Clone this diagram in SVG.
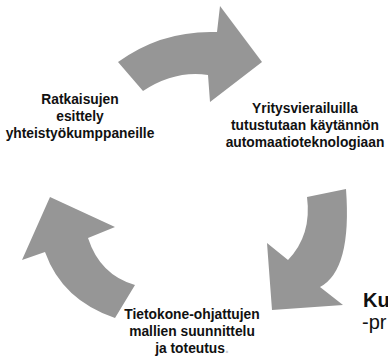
<svg xmlns="http://www.w3.org/2000/svg" width="388" height="357" viewBox="0 0 388 357">
<style>
.arrow{fill:#969696;stroke:none}
.lbl{font-family:"Liberation Sans",Arial,sans-serif;font-size:13.8px;font-weight:bold;fill:#111;text-anchor:middle}
.big{font-family:"Liberation Sans",Arial,sans-serif;font-size:20px;fill:#111}
</style>
<rect width="388" height="357" fill="#fff"/>
<g id="connectors">
<path id="arrow-top" class="arrow" d="M118,62 Q162,30 217,32 L220,6 L262,62 L210,102 L208,75 Q175,70 143,91 Z"/>
<path id="arrow-right" class="arrow" d="M346,189 Q352,270 320,287 L343,305 L272,310 L267,243 L288,260 Q312,235 307,197 Z"/>
<path id="arrow-left" class="arrow" d="M135,285 L115,318 Q62,300 45,252 L22,260 L50,197 L115,227 L88,238 Q100,275 135,285 Z"/>
</g>
<g id="node-ratkaisujen">
<text class="lbl" x="80" y="104">Ratkaisujen</text>
<text class="lbl" x="80" y="121">esittely</text>
<text class="lbl" x="80" y="138">yhteistyökumppaneille</text>
</g>
<g id="node-yritysvierailuilla">
<text class="lbl" x="305" y="113">Yritysvierailuilla</text>
<text class="lbl" x="305" y="130">tutustutaan käytännön</text>
<text class="lbl" x="305" y="147">automaatioteknologiaan</text>
</g>
<g id="node-tietokone">
<text class="lbl" x="192" y="319">Tietokone-ohjattujen</text>
<text class="lbl" x="192" y="336">mallien suunnittelu</text>
<text class="lbl" x="192" y="353">ja toteutus<tspan fill="#ccc">.</tspan></text>
</g>
<g id="node-ku">
<text class="big" x="363" y="307" font-weight="bold">Ku</text>
<text class="big" x="362" y="329">-pr</text>
</g>
</svg>
